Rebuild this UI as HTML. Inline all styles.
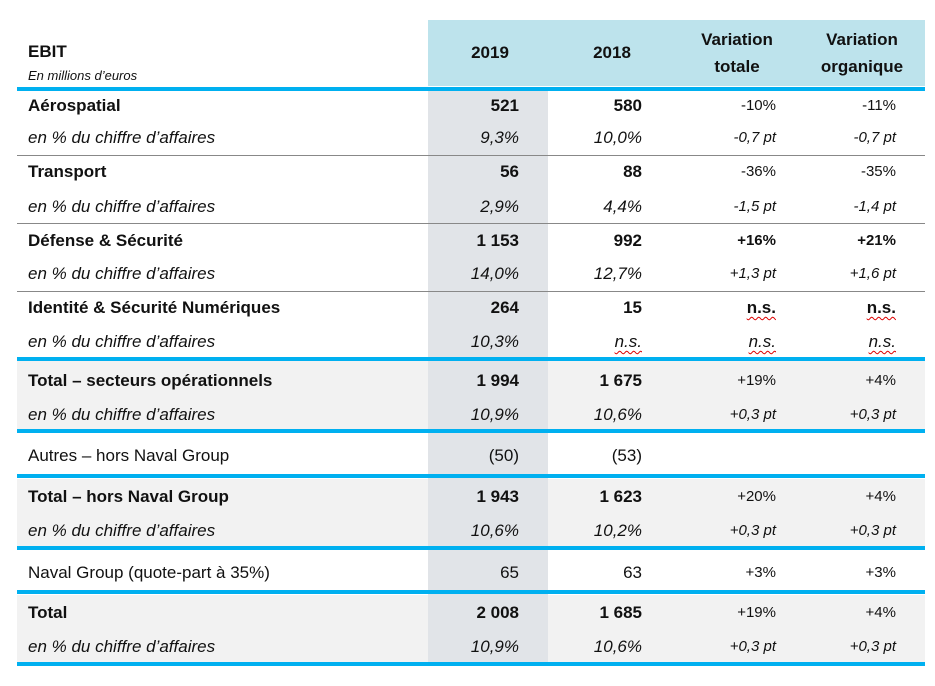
<!DOCTYPE html>
<html><head><meta charset="utf-8"><style>
body{margin:0;width:935px;height:686px;background:#fff;position:relative;overflow:hidden;font-family:"Liberation Sans",Arial,sans-serif;color:#111}
div{position:absolute}
.t{height:22px;line-height:22px;font-size:17px;white-space:nowrap}
.b{font-weight:bold}
.i{font-style:italic}
.r{text-align:right;width:140px}
.c{text-align:center;width:130px}
.thick{left:17px;width:908px;height:4px;background:#00b0f0}
.thin{left:17px;width:908px;height:1px;background:#7f7f7f}
.g{left:17px;width:908px;background:#f2f2f2}
.u{text-decoration:underline wavy #d00 1px;text-underline-offset:3px}
</style></head><body>
<div style="left:428px;top:20px;width:497px;height:66px;background:#bde3ec"></div>
<div class="g" style="top:361px;height:68px"></div>
<div class="g" style="top:479px;height:67px"></div>
<div class="g" style="top:595px;height:67px"></div>
<div style="left:428px;top:90px;width:120px;height:574px;background:#e1e4e8"></div>
<div class="thick" style="top:87px"></div>
<div class="thin" style="top:155px;background:#888"></div>
<div class="thin" style="top:223px;background:#888"></div>
<div class="thin" style="top:291px;background:#888"></div>
<div class="thick" style="top:357px"></div>
<div class="thick" style="top:429px"></div>
<div class="thick" style="top:474px"></div>
<div class="thick" style="top:546px"></div>
<div class="thick" style="top:590px"></div>
<div class="thick" style="top:662px"></div>

<div class="t b" style="left:28px;top:41px">EBIT</div>
<div class="t i" style="left:28px;top:65px;font-size:13px">En millions d’euros</div>
<div class="t b c" style="left:425px;top:42px">2019</div>
<div class="t b c" style="left:547px;top:42px">2018</div>
<div class="t b c" style="left:672px;top:29px">Variation</div>
<div class="t b c" style="left:672px;top:56px">totale</div>
<div class="t b c" style="left:797px;top:29px">Variation</div>
<div class="t b c" style="left:797px;top:56px">organique</div>

<!-- rows -->
<div class="t b" style="left:28px;top:95px">Aérospatial</div>
<div class="t i" style="left:28px;top:127px">en % du chiffre d’affaires</div>
<div class="t b r" style="left:379px;top:95px">521</div>
<div class="t b r" style="left:502px;top:95px">580</div>
<div class="t r" style="left:636px;top:95px;font-size:15px">-10%</div>
<div class="t r" style="left:756px;top:95px;font-size:15px">-11%</div>
<div class="t i r" style="left:379px;top:127px">9,3%</div>
<div class="t i r" style="left:502px;top:127px">10,0%</div>
<div class="t i r" style="left:636px;top:127px;font-size:15px">-0,7 pt</div>
<div class="t i r" style="left:756px;top:127px;font-size:15px">-0,7 pt</div>

<div class="t b" style="left:28px;top:161px">Transport</div>
<div class="t i" style="left:28px;top:196px">en % du chiffre d’affaires</div>
<div class="t b r" style="left:379px;top:161px">56</div>
<div class="t b r" style="left:502px;top:161px">88</div>
<div class="t r" style="left:636px;top:161px;font-size:15px">-36%</div>
<div class="t r" style="left:756px;top:161px;font-size:15px">-35%</div>
<div class="t i r" style="left:379px;top:196px">2,9%</div>
<div class="t i r" style="left:502px;top:196px">4,4%</div>
<div class="t i r" style="left:636px;top:196px;font-size:15px">-1,5 pt</div>
<div class="t i r" style="left:756px;top:196px;font-size:15px">-1,4 pt</div>

<div class="t b" style="left:28px;top:230px">Défense &amp; Sécurité</div>
<div class="t i" style="left:28px;top:263px">en % du chiffre d’affaires</div>
<div class="t b r" style="left:379px;top:230px">1 153</div>
<div class="t b r" style="left:502px;top:230px">992</div>
<div class="t b r" style="left:636px;top:230px;font-size:15px">+16%</div>
<div class="t b r" style="left:756px;top:230px;font-size:15px">+21%</div>
<div class="t i r" style="left:379px;top:263px">14,0%</div>
<div class="t i r" style="left:502px;top:263px">12,7%</div>
<div class="t i r" style="left:636px;top:263px;font-size:15px">+1,3 pt</div>
<div class="t i r" style="left:756px;top:263px;font-size:15px">+1,6 pt</div>

<div class="t b" style="left:28px;top:297px">Identité &amp; Sécurité Numériques</div>
<div class="t i" style="left:28px;top:331px">en % du chiffre d’affaires</div>
<div class="t b r" style="left:379px;top:297px">264</div>
<div class="t b r" style="left:502px;top:297px">15</div>
<div class="t b r" style="left:636px;top:297px"><span class="u">n.s.</span></div>
<div class="t b r" style="left:756px;top:297px"><span class="u">n.s.</span></div>
<div class="t i r" style="left:379px;top:331px">10,3%</div>
<div class="t i r" style="left:502px;top:331px"><span class="u">n.s.</span></div>
<div class="t i r" style="left:636px;top:331px"><span class="u">n.s.</span></div>
<div class="t i r" style="left:756px;top:331px"><span class="u">n.s.</span></div>

<div class="t b" style="left:28px;top:370px">Total – secteurs opérationnels</div>
<div class="t i" style="left:28px;top:404px">en % du chiffre d’affaires</div>
<div class="t b r" style="left:379px;top:370px">1 994</div>
<div class="t b r" style="left:502px;top:370px">1 675</div>
<div class="t r" style="left:636px;top:370px;font-size:15px">+19%</div>
<div class="t r" style="left:756px;top:370px;font-size:15px">+4%</div>
<div class="t i r" style="left:379px;top:404px">10,9%</div>
<div class="t i r" style="left:502px;top:404px">10,6%</div>
<div class="t i r" style="left:636px;top:404px;font-size:15px">+0,3 pt</div>
<div class="t i r" style="left:756px;top:404px;font-size:15px">+0,3 pt</div>

<div class="t" style="left:28px;top:445px">Autres – hors Naval Group</div>
<div class="t r" style="left:379px;top:445px">(50)</div>
<div class="t r" style="left:502px;top:445px">(53)</div>

<div class="t b" style="left:28px;top:486px">Total – hors Naval Group</div>
<div class="t i" style="left:28px;top:520px">en % du chiffre d’affaires</div>
<div class="t b r" style="left:379px;top:486px">1 943</div>
<div class="t b r" style="left:502px;top:486px">1 623</div>
<div class="t r" style="left:636px;top:486px;font-size:15px">+20%</div>
<div class="t r" style="left:756px;top:486px;font-size:15px">+4%</div>
<div class="t i r" style="left:379px;top:520px">10,6%</div>
<div class="t i r" style="left:502px;top:520px">10,2%</div>
<div class="t i r" style="left:636px;top:520px;font-size:15px">+0,3 pt</div>
<div class="t i r" style="left:756px;top:520px;font-size:15px">+0,3 pt</div>

<div class="t" style="left:28px;top:562px">Naval Group (quote-part à 35%)</div>
<div class="t r" style="left:379px;top:562px">65</div>
<div class="t r" style="left:502px;top:562px">63</div>
<div class="t r" style="left:636px;top:562px;font-size:15px">+3%</div>
<div class="t r" style="left:756px;top:562px;font-size:15px">+3%</div>

<div class="t b" style="left:28px;top:602px">Total</div>
<div class="t i" style="left:28px;top:636px">en % du chiffre d’affaires</div>
<div class="t b r" style="left:379px;top:602px">2 008</div>
<div class="t b r" style="left:502px;top:602px">1 685</div>
<div class="t r" style="left:636px;top:602px;font-size:15px">+19%</div>
<div class="t r" style="left:756px;top:602px;font-size:15px">+4%</div>
<div class="t i r" style="left:379px;top:636px">10,9%</div>
<div class="t i r" style="left:502px;top:636px">10,6%</div>
<div class="t i r" style="left:636px;top:636px;font-size:15px">+0,3 pt</div>
<div class="t i r" style="left:756px;top:636px;font-size:15px">+0,3 pt</div>
</body></html>
